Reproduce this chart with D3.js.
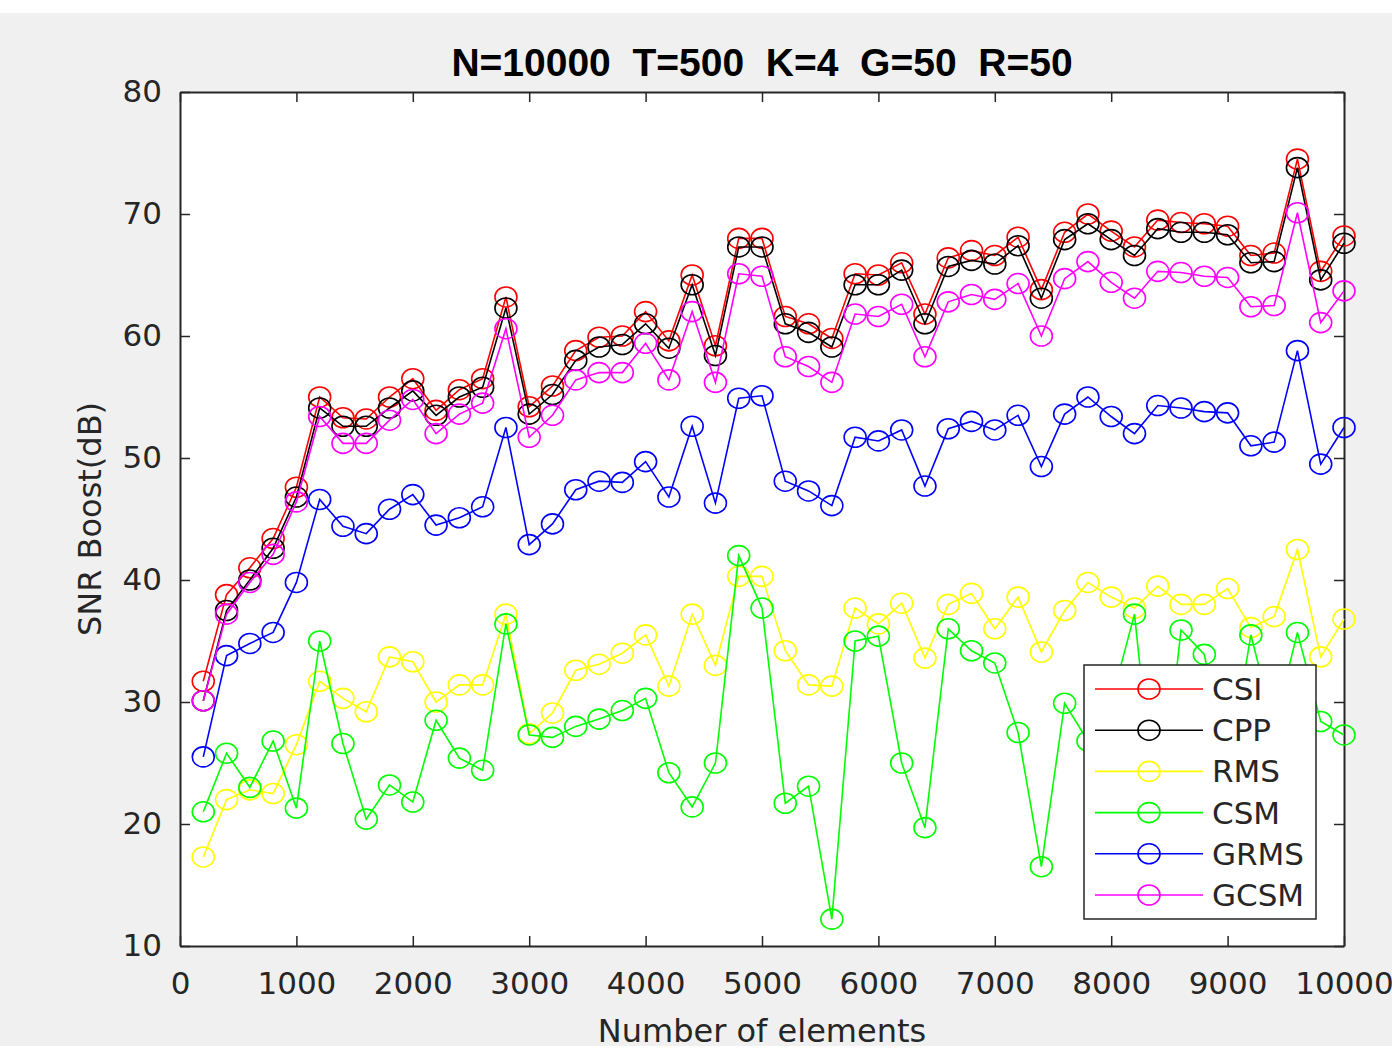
<!DOCTYPE html>
<html>
<head>
<meta charset="utf-8">
<script src="https://cdn.jsdelivr.net/npm/d3@7/dist/d3.min.js"></script>
<style>
	html, body { margin: 0; padding: 0; background: #fff; }
	svg { display: block; }
	text { font-family: 'DejaVu Sans', sans-serif; fill: #262626; }
</style>
</head>
<body>
<div id="chart"></div>
<script>
const elements	= d3.range(200, 10001, 200);

const csi	= [31.7, 38.8, 41.0, 43.4, 47.6, 55.0, 53.3, 53.2, 55.0, 56.5, 53.9, 55.6, 56.5, 63.2, 54.2, 55.9, 58.8, 59.9, 60.0, 62.0,
	59.6, 65.0, 59.2, 68.0, 68.0, 61.6, 61.0, 59.8, 65.1, 65.0, 66.0, 61.8, 66.4, 67.0, 66.6, 68.1, 63.8, 68.5, 70.0, 68.6,
	67.3, 69.5, 69.3, 69.2, 69.0, 66.6, 66.8, 74.5, 65.3, 68.2];
const cpp	= [30.1, 37.5, 40.0, 42.6, 46.8, 54.1, 52.6, 52.6, 54.1, 55.5, 53.5, 55.0, 55.8, 62.3, 53.6, 55.2, 58.0, 59.1, 59.3, 61.0,
	59.0, 64.2, 58.4, 67.3, 67.3, 61.0, 60.3, 59.1, 64.2, 64.2, 65.4, 61.0, 65.7, 66.2, 65.9, 67.4, 63.1, 67.9, 69.2, 67.9,
	66.6, 68.8, 68.5, 68.5, 68.3, 66.0, 66.1, 73.8, 64.6, 67.6];
const rms	= [17.3, 22.0, 22.8, 22.5, 26.5, 31.7, 30.3, 29.2, 33.7, 33.3, 30.0, 31.4, 31.4, 37.2, 27.4, 29.1, 32.6, 33.1, 34.0, 35.5,
	31.3, 37.2, 33.0, 40.3, 40.3, 34.2, 31.4, 31.3, 37.7, 36.4, 38.1, 33.6, 38.0, 38.9, 36.0, 38.6, 34.1, 37.5, 39.8, 38.6,
	37.7, 39.5, 38.0, 38.0, 39.3, 36.1, 37.0, 42.5, 33.7, 36.8];
const csm	= [21.0, 25.8, 23.0, 26.8, 21.3, 35.0, 26.6, 20.4, 23.2, 21.8, 28.5, 25.4, 24.4, 36.4, 27.3, 27.1, 28.0, 28.6, 29.3, 30.3,
	24.2, 21.4, 25.0, 42.0, 37.7, 21.7, 23.1, 12.2, 35.0, 35.4, 25.0, 19.7, 36.0, 34.2, 33.2, 27.5, 16.5, 29.9, 26.8, 30.0,
	37.2, 19.0, 35.9, 33.9, 24.0, 35.5, 28.0, 35.7, 28.4, 27.3];
const grms	= [25.5, 33.8, 34.8, 35.7, 39.8, 46.6, 44.4, 43.8, 45.8, 47.0, 44.5, 45.1, 46.0, 52.5, 42.9, 44.6, 47.4, 48.1, 48.0, 49.7,
	46.8, 52.6, 46.3, 54.9, 55.1, 48.1, 47.3, 46.1, 51.7, 51.4, 52.3, 47.7, 52.4, 53.0, 52.3, 53.5, 49.3, 53.6, 55.0, 53.4,
	52.0, 54.3, 54.1, 53.8, 53.7, 51.0, 51.3, 58.8, 49.5, 52.5];
const gcsm	= [30.1, 37.2, 39.8, 42.1, 46.4, 53.4, 51.2, 51.2, 53.1, 54.8, 52.0, 53.6, 54.5, 60.6, 51.7, 53.5, 56.4, 57.0, 57.0, 59.4,
	56.4, 62.0, 56.2, 65.1, 64.9, 58.3, 57.5, 56.2, 61.8, 61.6, 62.6, 58.3, 62.8, 63.4, 63.0, 64.3, 60.0, 64.7, 66.1, 64.4,
	63.1, 65.3, 65.2, 64.9, 64.8, 62.4, 62.5, 70.1, 61.1, 63.7];

const seriesNames	= ['CSI', 'CPP', 'RMS', 'CSM', 'GRMS', 'GCSM'];
const seriesValues	= [csi, cpp, rms, csm, grms, gcsm];
const seriesColors	= ['#ff0000', '#000000', '#ffff00', '#00ff00', '#0000ff', '#ff00ff'];

const xTicks	= d3.range(0, 10001, 1000);
const yTicks	= d3.range(10, 81, 10);

const chartTitle	= 'N=10000  T=500  K=4  G=50  R=50';
const xLabel		= 'Number of elements';
const yLabel		= 'SNR Boost(dB)';

const canvasWidth	= 1392;
const canvasHeight	= 1052;
const plot			= { left: 180, right: 1344, top: 92, bottom: 946 };
const axisColor		= '#262626';
const tickLen		= 10;

let svg = d3.select('#chart').append('svg')
	.attr('width', canvasWidth)
	.attr('height', canvasHeight);

svg.append('rect')
	.attr('width', canvasWidth)
	.attr('height', canvasHeight)
	.attr('fill', '#ffffff');

// figure background (matlab gray)
svg.append('rect')
	.attr('y', 13)
	.attr('width', canvasWidth)
	.attr('height', 1046 - 13)
	.attr('fill', '#f0f0f0');

let x = d3.scaleLinear().domain([0, 10000]).range([plot.left, plot.right]);
let y = d3.scaleLinear().domain([10, 80]).range([plot.bottom, plot.top]);

svg.append('rect')
	.attr('x', plot.left)
	.attr('y', plot.top)
	.attr('width', plot.right - plot.left)
	.attr('height', plot.bottom - plot.top)
	.attr('fill', '#ffffff');

// axes, ticks pointing inward on all four sides
let bottomAxis	= d3.axisBottom(x).tickValues(xTicks).tickFormat(d3.format('d')).tickSizeInner(-tickLen).tickSizeOuter(0).tickPadding(26);
let topAxis		= d3.axisTop(x).tickValues(xTicks).tickSizeInner(-tickLen).tickSizeOuter(0).tickFormat('');
let leftAxis	= d3.axisLeft(y).tickValues(yTicks).tickFormat(d3.format('d')).tickSizeInner(-tickLen).tickSizeOuter(0).tickPadding(18);
let rightAxis	= d3.axisRight(y).tickValues(yTicks).tickSizeInner(-tickLen).tickSizeOuter(0).tickFormat('');

svg.append('g').attr('transform', 'translate(0,' + plot.bottom + ')').call(bottomAxis);
svg.append('g').attr('transform', 'translate(0,' + plot.top + ')').call(topAxis);
svg.append('g').attr('transform', 'translate(' + plot.left + ',0)').call(leftAxis);
svg.append('g').attr('transform', 'translate(' + plot.right + ',0)').call(rightAxis);

svg.selectAll('.domain').attr('stroke', axisColor).attr('stroke-width', 2);
svg.selectAll('.tick line').attr('stroke', axisColor).attr('stroke-width', 1.5);
svg.selectAll('.tick text')
	.attr('fill', axisColor)
	.style('font-family', "'DejaVu Sans', sans-serif")
	.style('font-size', '31px');

// series
let line = d3.line()
	.x((d, i) => x(elements[i]))
	.y((d) => y(d));

let seriesG = svg.append('g').attr('id', 'series');

seriesValues.forEach((vals, k) => {
	let g = seriesG.append('g');

	g.append('path')
		.datum(vals)
		.attr('d', line)
		.attr('fill', 'none')
		.attr('stroke', seriesColors[k])
		.attr('stroke-width', 1.6);

	g.selectAll('ellipse').data(vals).enter().append('ellipse')
		.attr('cx', (d, i) => x(elements[i]))
		.attr('cy', (d) => y(d))
		.attr('rx', 11)
		.attr('ry', 10)
		.attr('fill', 'none')
		.attr('stroke', seriesColors[k])
		.attr('stroke-width', 1.6);
});

// legend
let legend = svg.append('g').attr('id', 'legend');

legend.append('rect')
	.attr('x', 1084)
	.attr('y', 665)
	.attr('width', 232)
	.attr('height', 254)
	.attr('fill', '#ffffff')
	.attr('stroke', axisColor)
	.attr('stroke-width', 1.5);

let rowY = d3.scaleLinear().domain([0, seriesNames.length - 1]).range([689, 895]);

let rows = legend.selectAll('g.row').data(seriesNames).enter().append('g')
	.attr('class', 'row')
	.attr('transform', (d, i) => 'translate(0,' + rowY(i) + ')');

rows.append('line')
	.attr('x1', 1095)
	.attr('x2', 1203)
	.attr('stroke', (d, i) => seriesColors[i])
	.attr('stroke-width', 1.6);

rows.append('ellipse')
	.attr('cx', 1149)
	.attr('rx', 11)
	.attr('ry', 10)
	.attr('fill', 'none')
	.attr('stroke', (d, i) => seriesColors[i])
	.attr('stroke-width', 1.6);

rows.append('text')
	.attr('x', 1212)
	.attr('y', 11)
	.style('font-size', '31px')
	.text((d) => d);

// titles
svg.append('text')
	.attr('x', (plot.left + plot.right) / 2)
	.attr('y', 76)
	.attr('text-anchor', 'middle')
	.style('font-family', "'Liberation Sans', Arial, sans-serif")
	.style('font-weight', 'bold')
	.style('font-size', '39px')
	.style('white-space', 'pre')
	.style('fill', '#000')
	.text(chartTitle);

svg.append('text')
	.attr('x', (plot.left + plot.right) / 2)
	.attr('y', 1042)
	.attr('text-anchor', 'middle')
	.style('font-size', '32px')
	.text(xLabel);

svg.append('text')
	.attr('transform', 'translate(101,' + (plot.top + plot.bottom) / 2 + ')rotate(-90)')
	.attr('text-anchor', 'middle')
	.style('font-size', '32px')
	.text(yLabel);
</script>
</body>
</html>
